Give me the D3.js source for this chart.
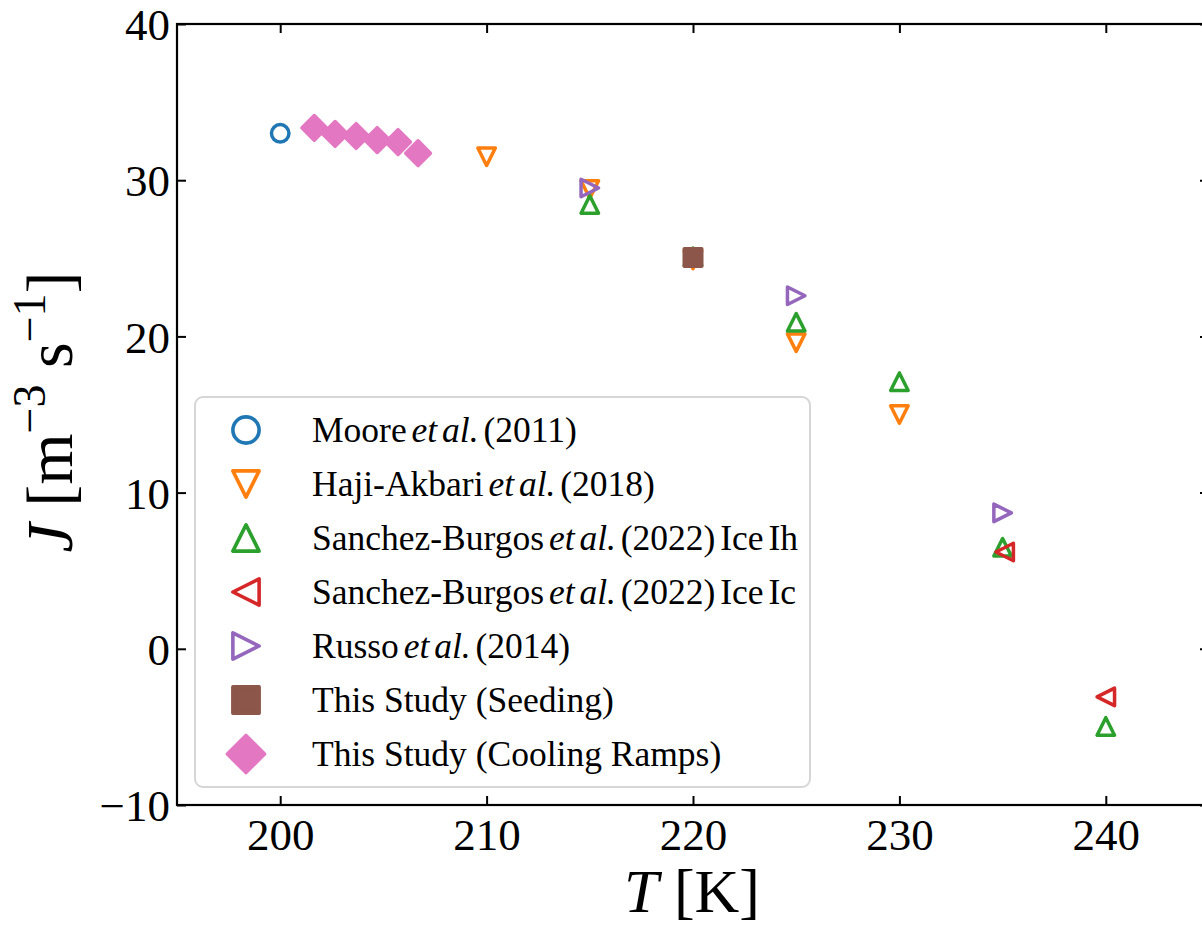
<!DOCTYPE html>
<html>
<head>
<meta charset="utf-8">
<script src="https://cdn.jsdelivr.net/npm/d3@7"></script>
<style>
  body { margin: 0; background: #fff; }
  text { font-family: "Liberation Serif", "DejaVu Serif", serif; fill: #000; }
</style>
</head>
<body>
<svg></svg>
<script>
// series values
var mooreT = [200];
var mooreJ = [33.0];
var hajiT = [210, 215, 220, 225, 230];
var hajiJ = [31.5, 29.4, 24.9, 19.6, 15.0];
var sbIhT = [215, 220, 225, 230, 235, 240];
var sbIhJ = [28.45, 25.1, 20.9, 17.1, 6.5, -4.97];
var sbIcT = [235.1, 240];
var sbIcJ = [6.2, -3.08];
var russoT = [215, 225, 235];
var russoJ = [29.5, 22.6, 8.7];
var seedT = [220];
var seedJ = [25.05];
var coolT = [201.65, 202.66, 203.68, 204.7, 205.71, 206.68];
var coolJ = [33.35, 32.96, 32.83, 32.57, 32.44, 31.73];

// tick labels
var xTicks = [200, 210, 220, 230, 240];
var yTicks = [-10, 0, 10, 20, 30, 40];

// legend labels (plain part, italic part, rest)
var labels = [
  ["Moore ", "et al.", " (2011)"],
  ["Haji-Akbari ", "et al.", " (2018)"],
  ["Sanchez-Burgos ", "et al.", " (2022) Ice Ih"],
  ["Sanchez-Burgos ", "et al.", " (2022) Ice Ic"],
  ["Russo ", "et al.", " (2014)"],
  ["This Study (Seeding)", "", ""],
  ["This Study (Cooling Ramps)", "", ""]
];

var W = 1202, H = 930;
var svg = d3.select("svg")
    .attr("width", W)
    .attr("height", H);

// plot area edges (the right spine falls just outside the picture)
var pL = 177, pT = 24, pR = 1209, pB = 805;

var x = d3.scaleLinear().domain([195, 245]).range([pL, pR]);
var y = d3.scaleLinear().domain([-10, 40]).range([pB, pT]);

// custom marker shapes, size = marker size in px (matplotlib style)
function poly(pts) {
  return { draw: function(ctx, s) {
    var r = s / 2;
    ctx.moveTo(pts[0][0] * r, pts[0][1] * r);
    for (var i = 1; i < pts.length; i++) ctx.lineTo(pts[i][0] * r, pts[i][1] * r);
    ctx.closePath();
  }};
}
var shapes = {
  circle: { draw: function(ctx, s) { var r = s / 2; ctx.moveTo(r, 0); ctx.arc(0, 0, r, 0, 2 * Math.PI); } },
  down: poly([[0, 1], [-1, -1], [1, -1]]),
  up: poly([[0, -1], [-1, 1], [1, 1]]),
  left: poly([[-1, 0], [1, -1], [1, 1]]),
  right: poly([[1, 0], [-1, -1], [-1, 1]]),
  square: poly([[-1, -1], [1, -1], [1, 1], [-1, 1]]),
  diamond: poly([[0, -1.414], [1.414, 0], [0, 1.414], [-1.414, 0]])
};

var series = [
  { T: mooreT, J: mooreJ, shape: "circle", color: "#1f77b4", filled: false },
  { T: hajiT, J: hajiJ, shape: "down", color: "#ff7f0e", filled: false },
  { T: sbIhT, J: sbIhJ, shape: "up", color: "#2ca02c", filled: false },
  { T: sbIcT, J: sbIcJ, shape: "left", color: "#d62728", filled: false },
  { T: russoT, J: russoJ, shape: "right", color: "#9467bd", filled: false },
  { T: seedT, J: seedJ, shape: "square", color: "#8c564b", filled: true },
  { T: coolT, J: coolJ, shape: "diamond", color: "#e377c2", filled: true }
];

var ms = 17.5;

// clip the plot area
svg.append("defs").append("clipPath").attr("id", "clip")
  .append("rect").attr("x", pL).attr("y", pT)
  .attr("width", pR - pL).attr("height", pB - pT);

// points
var pts = svg.append("g").attr("clip-path", "url(#clip)");
series.forEach(function(s) {
  pts.selectAll(null)
    .data(s.T.map(function(t, i) { return [t, s.J[i]]; }))
    .enter().append("path")
      .attr("transform", function(d) { return "translate(" + x(d[0]) + "," + y(d[1]) + ")"; })
      .attr("d", d3.symbol().type(shapes[s.shape]).size(ms))
      .attr("fill", s.filled ? s.color : "none")
      .attr("stroke", s.color)
      .attr("stroke-width", 3.5)
      .attr("stroke-linejoin", "round");
});

// axes, ticks pointing inward on all four sides
var tickLen = 9;
svg.append("g")
    .attr("transform", "translate(0," + pB + ")")
    .call(d3.axisBottom(x).tickValues(xTicks).tickSizeInner(-tickLen).tickSizeOuter(0).tickPadding(13))
    .call(function(g) { g.selectAll("text").attr("font-size", 45).attr("dy", "0.71em"); });
svg.append("g")
    .attr("transform", "translate(0," + pT + ")")
    .call(d3.axisTop(x).tickValues(xTicks).tickSizeInner(-tickLen).tickSizeOuter(0).tickFormat(""));
svg.append("g")
    .attr("transform", "translate(" + pL + ",0)")
    .call(d3.axisLeft(y).tickValues(yTicks).tickSizeInner(-tickLen).tickSizeOuter(0).tickPadding(7)
      .tickFormat(function(d) { return d < 0 ? "\u2212" + (-d) : d; }))
    .call(function(g) { g.selectAll("text").attr("font-size", 45).attr("dy", "0.35em"); });
svg.append("g")
    .attr("transform", "translate(" + pR + ",0)")
    .call(d3.axisRight(y).tickValues(yTicks).tickSizeInner(-tickLen).tickSizeOuter(0).tickFormat(""));

svg.selectAll(".domain").remove();
svg.selectAll(".tick line").attr("stroke", "#000").attr("stroke-width", 2);

// frame
svg.append("rect")
    .attr("x", pL).attr("y", pT)
    .attr("width", pR - pL).attr("height", pB - pT)
    .attr("fill", "none").attr("stroke", "#000").attr("stroke-width", 2.2);

// axis labels
var xl = svg.append("text")
    .attr("x", 692).attr("y", 912)
    .attr("text-anchor", "middle")
    .attr("font-size", 62);
xl.append("tspan").attr("font-style", "italic").text("T");
xl.append("tspan").text(" [K]");

var yl = svg.append("text")
    .attr("transform", "translate(72,412) rotate(-90)")
    .attr("text-anchor", "middle")
    .attr("font-size", 66);
yl.append("tspan").attr("font-style", "italic").text("J");
yl.append("tspan").text(" [m");
yl.append("tspan").attr("font-size", 46).attr("dy", -27).text("\u22123");
yl.append("tspan").attr("dy", 27).text(" s");
yl.append("tspan").attr("font-size", 46).attr("dy", -27).text("\u22121");
yl.append("tspan").attr("dy", 27).text("]");

// legend
var leg = svg.append("g");
leg.append("rect")
    .attr("x", 195).attr("y", 397)
    .attr("width", 615).attr("height", 390)
    .attr("rx", 8)
    .attr("fill", "#fff").attr("fill-opacity", 0.8)
    .attr("stroke", "#d6d6d6").attr("stroke-width", 2);

var rows = leg.selectAll("g.row")
  .data(series)
  .enter().append("g")
    .attr("class", "row")
    .attr("transform", function(d, i) { return "translate(0," + (430 + i * 54) + ")"; });

rows.append("path")
    .attr("transform", "translate(246,0)")
    .attr("d", function(d) { return d3.symbol().type(shapes[d.shape]).size(ms * 1.5)(); })
    .attr("fill", function(d) { return d.filled ? d.color : "none"; })
    .attr("stroke", function(d) { return d.color; })
    .attr("stroke-width", 3.6)
    .attr("stroke-linejoin", "round");

var lt = rows.append("text")
    .attr("x", 312).attr("y", 12)
    .attr("font-size", 35.5)
    .attr("word-spacing", function(d, i) { return labels[i][1] ? -4 : 0; });
lt.each(function(d, i) {
  var t = d3.select(this);
  t.append("tspan").text(labels[i][0]);
  if (labels[i][1]) t.append("tspan").attr("font-style", "italic").text(labels[i][1]);
  if (labels[i][2]) t.append("tspan").text(labels[i][2]);
});
</script>
</body>
</html>
